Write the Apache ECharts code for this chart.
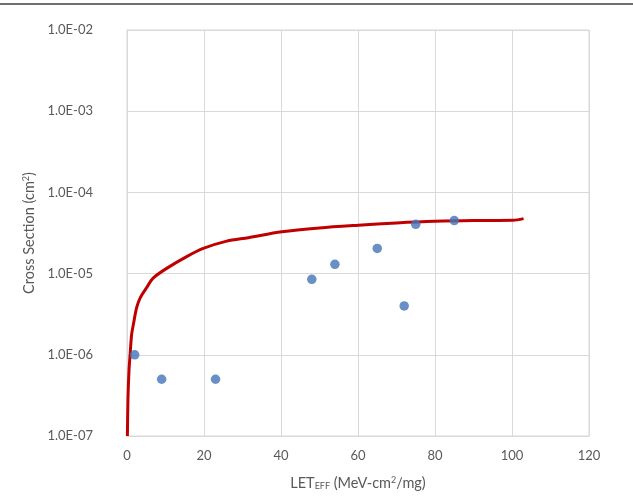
<!DOCTYPE html>
<html><head><meta charset="utf-8">
<script src="https://cdn.jsdelivr.net/npm/echarts@6/dist/echarts.min.js"></script>
<style>html,body{margin:0;padding:0;background:#fff}#c{width:633px;height:496px}</style>
</head><body><div id="c"></div>
<script>
// Measured data points
const pointLET = [2, 9, 23, 48, 54, 65, 72, 75, 85];
const pointXS = [1.0e-6, 5.0e-7, 5.0e-7, 8.5e-6, 1.3e-5, 2.04e-5, 4.0e-6, 4.05e-5, 4.5e-5];
// Fit curve
const curveLET = [0.1, 0.26, 0.52, 0.8, 1.2, 1.65, 2.5, 3.4, 5, 6.8, 10.3, 15.5, 19.8, 25.9, 31.5, 40.2, 50, 60.1, 70, 80, 90, 100.3, 103];
const curveXS = [1e-7, 3e-7, 6.4e-7, 1e-6, 1.78e-6, 2.36e-6, 3.8e-6, 5.0e-6, 6.6e-6, 8.8e-6, 1.16e-5, 1.62e-5, 2.04e-5, 2.51e-5, 2.77e-5, 3.27e-5, 3.65e-5, 3.94e-5, 4.2e-5, 4.4e-5, 4.5e-5, 4.53e-5, 4.75e-5];
const xTicks = [0, 20, 40, 60, 80, 100, 120];

const font = 'Lato';
const grey = '#595959';
const chart = echarts.init(document.getElementById('c'));
function fmtExp(v){
  const e = Math.round(Math.log10(v));
  const m = v / Math.pow(10, e);
  const s = Math.abs(e) < 10 ? '0' + Math.abs(e) : '' + Math.abs(e);
  return m.toFixed(1) + 'E' + (e < 0 ? '-' : '+') + s;
}
chart.setOption({
  animation: false,
  backgroundColor: '#fff',
  textStyle: {fontFamily: font},
  graphic: [{type: 'rect', shape: {x: 0, y: 3, width: 633, height: 2}, style: {fill: '#6f6f6f'}}],
  grid: {left: 127, right: 44, top: 30, bottom: 57, show: true, borderColor: '#d9d9d9', borderWidth: 1},
  xAxis: {
    type: 'value', min: xTicks[0], max: xTicks[xTicks.length - 1], interval: 20,
    axisLine: {lineStyle: {color: '#d9d9d9'}}, axisTick: {show: false},
    splitLine: {lineStyle: {color: '#d9d9d9'}},
    axisLabel: {color: grey, fontSize: 13, fontFamily: font, margin: 13},
    name: 'LET{sub|EFF} (MeV-cm{sup|2}/mg)', nameLocation: 'middle', nameGap: 40,
    nameTextStyle: {color: grey, fontSize: 14.5, fontFamily: font,
      rich: {sub: {fontSize: 9, color: grey, fontFamily: font, verticalAlign: 'bottom', padding: [6,0,0,0]},
             sup: {fontSize: 9, color: grey, fontFamily: font, verticalAlign: 'top', padding: [0,0,6,0]}}}
  },
  yAxis: {
    type: 'log', logBase: 10, min: 1e-7, max: 1e-2,
    axisLine: {lineStyle: {color: '#d9d9d9'}}, axisTick: {show: false},
    splitLine: {lineStyle: {color: '#d9d9d9'}}, minorSplitLine: {show: false},
    axisLabel: {color: grey, fontSize: 13, fontFamily: font, margin: 34, formatter: fmtExp},
    name: 'Cross Section (cm{sup|2})', nameLocation: 'middle', nameGap: 83, nameRotate: 90,
    nameTextStyle: {color: grey, fontSize: 14.5, fontFamily: font,
      rich: {sup: {fontSize: 9, color: grey, fontFamily: font, verticalAlign: 'top', padding: [0,0,6,0]}}}
  },
  series: [
    {type: 'line', data: curveLET.map((x, i) => [x, curveXS[i]]), showSymbol: false, symbol: 'none',
     smooth: 0.3, lineStyle: {color: '#c00000', width: 3}, z: 2},
    {type: 'scatter', data: pointLET.map((x, i) => [x, pointXS[i]]), symbolSize: 9.5,
     itemStyle: {color: '#4473b9'}, z: 3}
  ]
});
</script></body></html>
